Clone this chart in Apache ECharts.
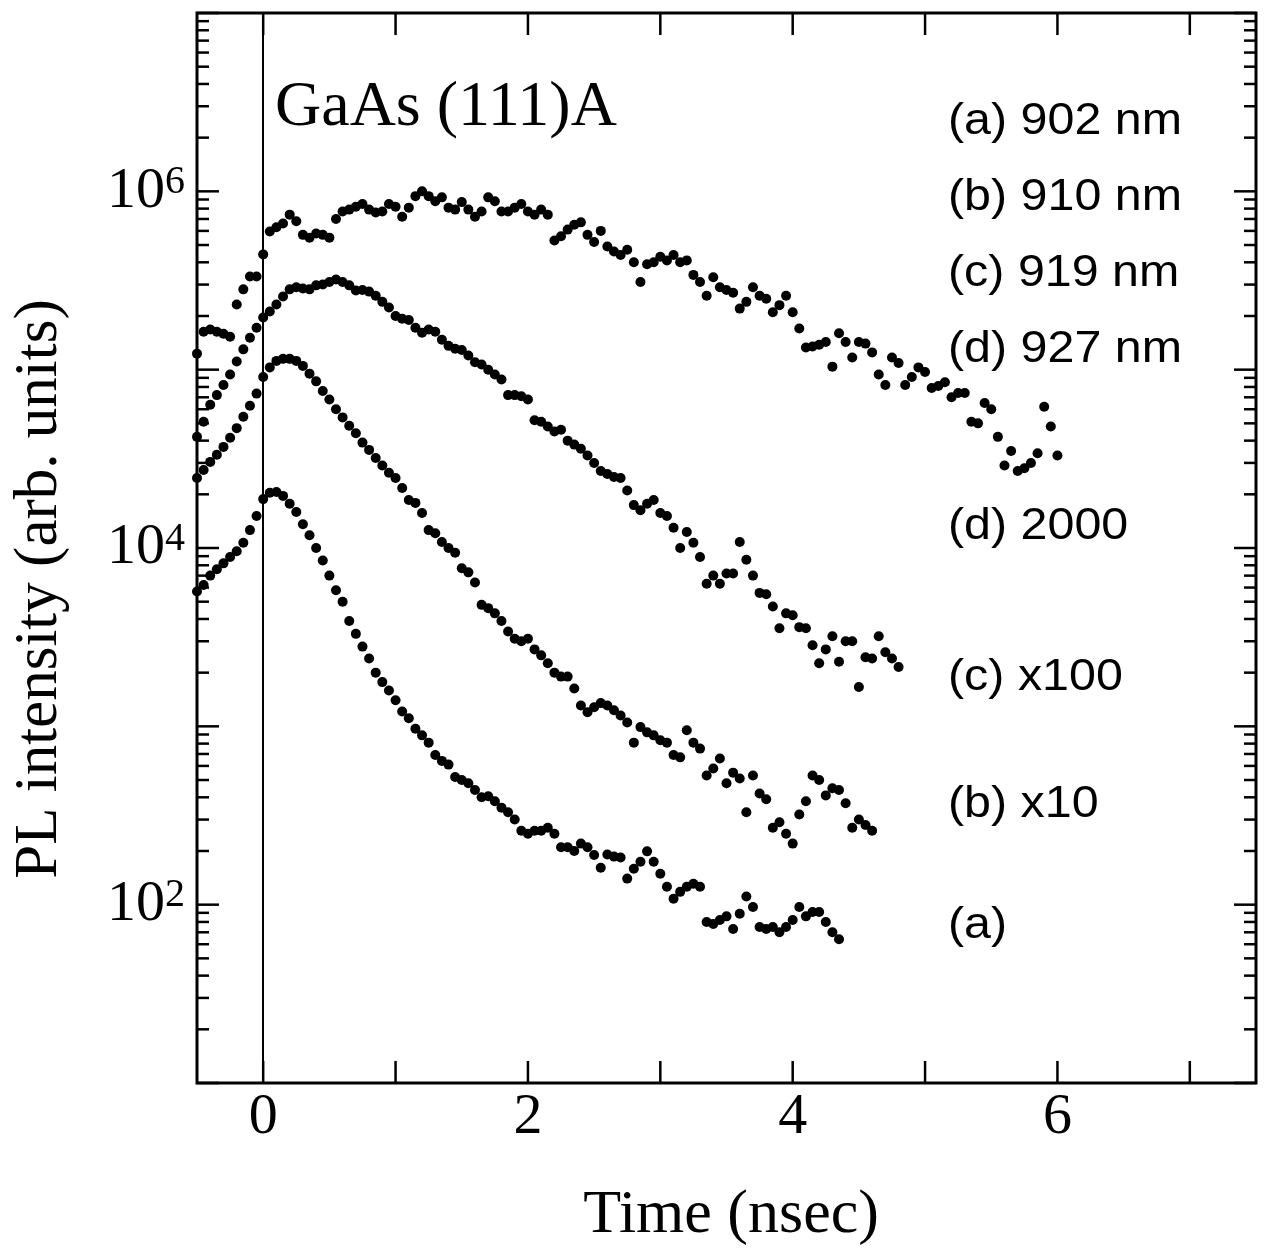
<!DOCTYPE html>
<html><head><meta charset="utf-8">
<script src="https://cdn.jsdelivr.net/npm/echarts@6/dist/echarts.min.js"></script>
<style>html,body{margin:0;padding:0;background:#fff}#c{width:1265px;height:1253px}</style>
</head><body><div id="c"></div>
<script>
// Time axis (ns), shared by all traces
const timeNs = [-0.5,-0.45,-0.4,-0.35,-0.3,-0.25,-0.2,-0.15,-0.1,-0.05,
0,0.05,0.1,0.15,0.2,0.25,0.3,0.35,0.4,0.45,
0.5,0.55,0.6,0.65,0.7,0.75,0.8,0.85,0.9,0.95,
1,1.05,1.1,1.15,1.2,1.25,1.3,1.35,1.4,1.45,
1.5,1.55,1.6,1.65,1.7,1.75,1.8,1.85,1.9,1.95,
2,2.05,2.1,2.15,2.2,2.25,2.3,2.35,2.4,2.45,
2.5,2.55,2.6,2.65,2.7,2.75,2.8,2.85,2.9,2.95,
3,3.05,3.1,3.15,3.2,3.25,3.3,3.35,3.4,3.45,
3.5,3.55,3.6,3.65,3.7,3.75,3.8,3.85,3.9,3.95,
4,4.05,4.1,4.15,4.2,4.25,4.3,4.35,4.4,4.45,
4.5,4.55,4.6,4.65,4.7,4.75,4.8,4.85,4.9,4.95,
5,5.05,5.1,5.15,5.2,5.25,5.3,5.35,5.4,5.45,
5.5,5.55,5.6,5.65,5.7,5.75,5.8,5.85,5.9,5.95,6.0];

// (d) 927 nm, x2000
const plD = [1.23e5,1.63e5,1.68e5,1.63e5,1.59e5,1.53e5,2.32e5,2.82e5,3.33e5,3.33e5,
4.43e5,5.96e5,6.29e5,6.6e5,7.4e5,6.8e5,5.7e5,5.5e5,5.8e5,5.7e5,
5.5e5,7.0e5,7.7e5,7.9e5,8.2e5,8.5e5,7.9e5,7.6e5,7.7e5,8.5e5,
8.2e5,7.2e5,8.1e5,9.4e5,1.0e6,9.4e5,8.8e5,9.25e5,8.1e5,7.9e5,
8.7e5,7.9e5,7.2e5,7.7e5,9.25e5,8.8e5,7.7e5,7.7e5,8.1e5,8.5e5,
7.7e5,7.4e5,7.9e5,7.4e5,5.3e5,5.6e5,6.1e5,6.5e5,6.7e5,5.7e5,
5.2e5,6.0e5,4.9e5,4.6e5,4.4e5,4.7e5,4.0e5,3.1e5,3.9e5,4.0e5,
4.3e5,4.1e5,4.4e5,4.0e5,4.1e5,3.4e5,3.1e5,2.6e5,3.3e5,2.9e5,
2.8e5,2.7e5,2.2e5,2.4e5,2.9e5,2.6e5,2.5e5,2.1e5,2.3e5,2.6e5,
2.1e5,1.7e5,1.33e5,1.35e5,1.38e5,1.43e5,1.04e5,1.6e5,1.43e5,1.17e5,
1.43e5,1.4e5,1.25e5,9.4e4,8.2e4,1.17e5,1.09e5,8.2e4,9.1e4,1.03e5,
9.7e4,7.9e4,8.1e4,8.5e4,7.0e4,7.4e4,7.4e4,5.1e4,5.0e4,6.5e4,
6.0e4,4.2e4,2.9e4,3.5e4,2.7e4,2.8e4,3.0e4,3.4e4,6.2e4,4.8e4,3.3e4];

// (c) 919 nm, x100
const plC = [4.2e4,5.1e4,6.35e4,7.2e4,8.2e4,9.4e4,1.11e5,1.3e5,1.51e5,1.72e5,
1.96e5,2.12e5,2.32e5,2.57e5,2.82e5,2.9e5,2.85e5,2.82e5,2.97e5,3.0e5,
3.1e5,3.2e5,3.1e5,2.97e5,2.78e5,2.8e5,2.74e5,2.6e5,2.4e5,2.23e5,
2.0e5,1.93e5,1.9e5,1.72e5,1.61e5,1.68e5,1.63e5,1.47e5,1.36e5,1.31e5,
1.29e5,1.2e5,1.1e5,1.07e5,1.0e5,9.4e4,8.8e4,7.2e4,7.2e4,7.1e4,
6.8e4,5.2e4,5.1e4,4.8e4,4.5e4,4.6e4,4.0e4,3.8e4,3.6e4,3.3e4,
3.0e4,2.7e4,2.6e4,2.5e4,2.47e4,2.1e4,1.74e4,1.63e4,1.77e4,1.86e4,
1.57e4,1.51e4,1.3e4,1.0e4,1.23e4,1.07e4,8.9e3,6.3e3,7.0e3,6.3e3,
7.2e3,7.2e3,1.08e4,8.6e3,7.0e3,5.6e3,5.5e3,4.7e3,3.55e3,4.3e3,
4.2e3,3.6e3,3.55e3,2.85e3,2.26e3,2.7e3,3.2e3,2.3e3,3.0e3,3.0e3,
1.66e3,2.44e3,2.4e3,3.2e3,2.6e3,2.4e3,2.15e3];

// (b) 910 nm, x10
const plB = [2.47e4,2.74e4,3.04e4,3.33e4,3.69e4,4.15e4,4.7e4,5.44e4,6.27e4,7.34e4,
9.1e4,1.03e5,1.12e5,1.15e5,1.15e5,1.12e5,1.05e5,9.5e4,8.6e4,7.6e4,
6.8e4,6.0e4,5.4e4,4.85e4,4.4e4,3.9e4,3.55e4,3.2e4,2.9e4,2.64e4,
2.47e4,2.17e4,1.86e4,1.79e4,1.57e4,1.26e4,1.21e4,1.08e4,1.0e4,9.4e3,
7.7e3,7.3e3,6.4e3,4.8e3,4.6e3,4.3e3,3.9e3,3.4e3,3.1e3,3.0e3,
3.1e3,2.7e3,2.5e3,2.26e3,2.0e3,1.9e3,1.9e3,1.63e3,1.31e3,1.2e3,
1.28e3,1.35e3,1.31e3,1.23e3,1.15e3,1.05e3,810,990,925,890,
835,810,690,670,950,810,750,530,580,660,
480,550,510,330,530,420,390,270,290,250,
220,320,380,530,500,410,450,440,370,270,
300,280,260];

// (a) 902 nm
const plA = [5.7e3,6.2e3,7.0e3,7.6e3,8.2e3,8.9e3,9.6e3,1.07e4,1.26e4,1.51e4,
1.88e4,2.04e4,2.06e4,1.96e4,1.77e4,1.59e4,1.36e4,1.18e4,1.0e4,8.5e3,
7.0e3,5.8e3,5.0e3,3.9e3,3.3e3,2.8e3,2.4e3,2.0e3,1.77e3,1.59e3,
1.4e3,1.21e3,1.11e3,970,890,810,690,640,610,520,
500,480,440,400,405,380,350,330,300,260,
250,260,260,270,250,210,210,200,220,210,
190,161,191,186,184,140,159,174,199,174,
149,126,108,118,126,131,126,80,78,82,
86,73,89,111,97,75,73,75,70,75,
82,97,86,91,91,80,70,64];

// Axis ticks
const xTickValues = [0,1,2,3,4,5,6,7];
const xLabelValues = [0,2,4,6];
const yDecades = [10,100,1000,1e4,1e5,1e6,1e7];
const yLabelExps = [2,4,6];
const yMinorMantissa = [2,3,4,5,6,7,8,9];

// Texts
const curveLabels = ['(a) 902 nm','(b) 910 nm','(c) 919 nm','(d) 927 nm','(d) 2000','(c) x100','(b) x10','(a)'];
const curveLabelY = [122,198,274,350,527,678,805,926];

function zip(vals){ return vals.map((v,i)=>[timeNs[i], v]); }

const tickData = [];
yDecades.forEach(v => tickData.push([-0.5, v, 0]));
yDecades.slice(0,-1).forEach(d => yMinorMantissa.forEach(m => tickData.push([-0.5, d*m, 1])));
xTickValues.forEach(t => tickData.push([t, 10, 2]));

const serif = '"Liberation Serif","Times New Roman",serif';
const sans = '"Liberation Sans",Arial,Helvetica,sans-serif';

const chart = echarts.init(document.getElementById('c'), null, {renderer:'canvas'});

function scat(name, vals){
  return {type:'scatter', name, data: zip(vals), symbol:'circle', symbolSize:10,
    itemStyle:{color:'#000', opacity:1}, silent:true, z:3};
}

const sD = scat('d', plD);
sD.markLine = {silent:true, symbol:['none','none'], label:{show:false},
  lineStyle:{color:'#000', width:2, type:'solid', opacity:1}, data:[{xAxis:0}], animation:false};

const graphic = [];
graphic.push({type:'text', x:275, y:108, style:{text:'GaAs (111)A', font:'64px '+serif, fill:'#000', align:'left', verticalAlign:'middle'}});
curveLabels.forEach((t,i)=>{
  graphic.push({type:'text', x:948, y:curveLabelY[i], scaleX:1.1, style:{text:t, font:'44px '+sans, fill:'#000', align:'left', verticalAlign:'middle'}});
});
graphic.push({type:'text', x:40, y:589, rotation:Math.PI/2, style:{text:'PL intensity (arb. units)', font:'61px '+serif, fill:'#000', align:'center', verticalAlign:'middle'}});
graphic.push({type:'text', x:731, y:1216, style:{text:'Time (nsec)', font:'62px '+serif, fill:'#000', align:'center', verticalAlign:'middle'}});

chart.setOption({
  animation:false,
  backgroundColor:'#fff',
  grid:{left:197, top:13, width:1059, height:1070, show:true, borderColor:'#000', borderWidth:3, backgroundColor:'transparent'},
  xAxis:{type:'value', min:-0.5, max:7.5, interval:0.5,
    axisLine:{show:false}, axisTick:{show:false}, splitLine:{show:false},
    axisLabel:{margin:6, fontFamily:serif, fontSize:58, color:'#000',
      formatter:function(v){ const r=Math.round(v); return (Math.abs(v-r)<1e-6 && xLabelValues.indexOf(r)>=0) ? String(r) : ''; }}},
  yAxis:{type:'log', logBase:10, min:10, max:1e7, splitNumber:6,
    axisLine:{show:false}, axisTick:{show:false}, splitLine:{show:false}, minorTick:{show:false},
    axisLabel:{margin:12, color:'#000',
      formatter:function(v){ const e=Math.round(Math.log10(v)); return yLabelExps.indexOf(e)>=0 ? '{b|10}{s|'+e+'}' : ''; },
      rich:{
        b:{fontFamily:serif, fontSize:58, lineHeight:58, verticalAlign:'bottom', padding:[8,0,0,0], color:'#000'},
        s:{fontFamily:serif, fontSize:40, lineHeight:40, verticalAlign:'top', color:'#000'}
      }}},
  graphic: graphic,
  series:[
    sD, scat('c', plC), scat('b', plB), scat('a', plA),
    {type:'custom', data:tickData, silent:true, z:4, clip:false,
      renderItem:function(params, api){
        const type = api.value(2);
        const st = {stroke:'#000', lineWidth:2.5};
        if (type < 2) {
          const v = api.value(1);
          const L = api.coord([-0.5, v]), R = api.coord([7.5, v]);
          const len = type === 0 ? 22 : 12;
          return {type:'group', children:[
            {type:'line', shape:{x1:L[0], y1:L[1], x2:L[0]+len, y2:L[1]}, style:st},
            {type:'line', shape:{x1:R[0], y1:R[1], x2:R[0]-len, y2:R[1]}, style:st}]};
        }
        const t = api.value(0);
        const B = api.coord([t, 10]), T = api.coord([t, 1e7]);
        return {type:'group', children:[
          {type:'line', shape:{x1:B[0], y1:B[1], x2:B[0], y2:B[1]-22}, style:st},
          {type:'line', shape:{x1:T[0], y1:T[1], x2:T[0], y2:T[1]+22}, style:st}]};
      }}
  ]
});
</script></body></html>
